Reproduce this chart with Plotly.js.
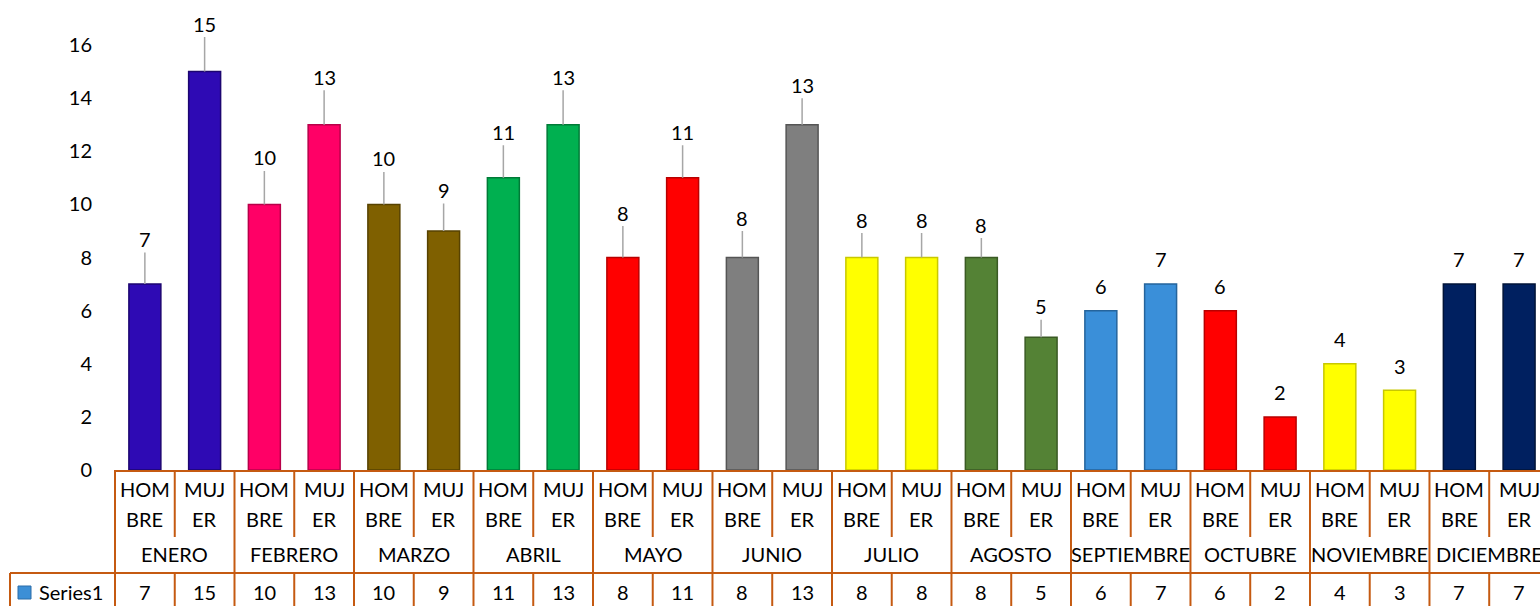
<!DOCTYPE html>
<html>
<head>
<meta charset="utf-8">
<script src="https://cdn.plot.ly/plotly-3.0.1.min.js"></script>
<style>
html,body{margin:0;padding:0;background:#fff;overflow:hidden;}
#chart{width:1540px;height:606px;}
</style>
</head>
<body>
<div id="chart"></div>
<script>
// ---- data ----
const months = ["ENERO","FEBRERO","MARZO","ABRIL","MAYO","JUNIO","JULIO","AGOSTO","SEPTIEMBRE","OCTUBRE","NOVIEMBRE","DICIEMBRE"];
const sexes = ["HOMBRE","MUJER"];
const hombre = [7,10,10,11,8,8,8,8,6,6,4,7];
const mujer  = [15,13,9,13,11,13,8,5,7,2,3,7];
const seriesName = "Series1";
const yTicks = [0,2,4,6,8,10,12,14,16];

// ---- styles ----
const monthColors = ["#2E0AB4","#FF0066","#7F6000","#00B050","#FF0000","#7F7F7F","#FFFF00","#548235","#3A8FD9","#FF0000","#FFFF00","#002060"];
const monthEdges  = ["#1C0570","#B80049","#574200","#007A37","#B80000","#555555","#C8C800","#3A5A24","#25649C","#B80000","#C8C800","#001338"];
const labelLift = [45,48,47,48,46,41,46,48,45,46,40,40,38,38,33,31,25,25,25,25,25,24,25,25];
const leaderCount = 16;
const FONT = "Lato, 'Open Sans', sans-serif";
const BORDER = "#C55A11";

// ---- build categories ----
const cats = [], vals = [], colors = [], edges = [];
months.forEach((m, i) => {
  sexes.forEach((s, j) => {
    cats.push(m + " " + s);
    vals.push(j === 0 ? hombre[i] : mujer[i]);
    colors.push(monthColors[i]);
    edges.push(monthEdges[i]);
  });
});

// pixel helpers (plot area: x 115..1540, y 45..470)
const L = 115, R = 1540, T = 45, B = 470;
const px = p => (p - L) / (R - L);
const py = p => (B - p) / (B - T);

const annotations = [];
const shapes = [];

// data labels
vals.forEach((v, i) => {
  const hasLine = i < leaderCount;
  annotations.push({
    x: i, y: v, xref: "x", yref: "y", text: String(v),
    showarrow: true, ax: 0, ay: -labelLift[i], arrowhead: 0, standoff: 0,
    arrowwidth: 1.5, arrowcolor: hasLine ? "#A6A6A6" : "rgba(0,0,0,0)",
    font: {family: FONT, size: 20, color: "#000"}
  });
});

// sex labels (wrapped like Excel) and values row
cats.forEach((c, i) => {
  const s = sexes[i % 2];
  const top = s.slice(0, 3), bot = s.slice(3);
  annotations.push({x: i, xref: "x", y: py(489), yref: "paper", text: top, showarrow: false,
    font: {family: FONT, size: 20, color: "#000"}, yanchor: "middle"});
  annotations.push({x: i, xref: "x", y: py(519), yref: "paper", text: bot, showarrow: false,
    font: {family: FONT, size: 20, color: "#000"}, yanchor: "middle"});
  annotations.push({x: i, xref: "x", y: py(592), yref: "paper", text: String(vals[i]), showarrow: false,
    font: {family: FONT, size: 20, color: "#000"}, yanchor: "middle"});
});

// month labels
months.forEach((m, i) => {
  annotations.push({x: 2 * i + 0.5, xref: "x", y: py(554), yref: "paper", text: m, showarrow: false,
    font: {family: FONT, size: 20, color: "#000"}, yanchor: "middle"});
});

// series label
annotations.push({x: px(37), xref: "paper", y: py(592), yref: "paper", text: seriesName, showarrow: false,
  xanchor: "left", yanchor: "middle", font: {family: FONT, size: 20, color: "#000"}});

// table lines
const lineStyle = {color: BORDER, width: 2};
// left border of table
shapes.push({type: "line", xref: "paper", yref: "paper", x0: 0, x1: 0, y0: py(470), y1: py(610), line: lineStyle});
// month separators
for (let k = 0; k < months.length; k++) {
  const xb = 2 * k + 1.5;
  shapes.push({type: "line", xref: "x", yref: "paper", x0: xb, x1: xb, y0: py(470), y1: py(610), line: lineStyle});
  const xi = 2 * k + 0.5;
  shapes.push({type: "line", xref: "x", yref: "paper", x0: xi, x1: xi, y0: py(470), y1: py(537), line: lineStyle});
  shapes.push({type: "line", xref: "x", yref: "paper", x0: xi, x1: xi, y0: py(573), y1: py(610), line: lineStyle});
}
// horizontal line above values row
shapes.push({type: "line", xref: "paper", yref: "paper", x0: px(10), x1: 1, y0: py(573), y1: py(573), line: lineStyle});
// left border of legend cell
shapes.push({type: "line", xref: "paper", yref: "paper", x0: px(10), x1: px(10), y0: py(573), y1: py(610), line: lineStyle});
// legend key
shapes.push({type: "rect", xref: "paper", yref: "paper", x0: px(18), x1: px(31), y0: py(586), y1: py(599),
  fillcolor: "#3C8FD6", line: {color: "#2A6CA8", width: 1}});

const trace = {
  type: "bar", x: cats, y: vals, name: seriesName,
  marker: {color: colors, line: {color: edges, width: 1.5}},
  hoverinfo: "x+y"
};

const layout = {
  width: 1540, height: 606,
  margin: {l: L, r: 0, t: T, b: 606 - B, pad: 0},
  paper_bgcolor: "#fff", plot_bgcolor: "#fff",
  showlegend: false,
  bargap: 0.465,
  font: {family: FONT, size: 20, color: "#000"},
  xaxis: {type: "category", range: [-0.5, 23.35], showticklabels: false, ticks: "",
    showgrid: false, zeroline: false, showline: true, linecolor: BORDER, linewidth: 2, fixedrange: true},
  yaxis: {range: [0, 16], tickvals: yTicks, ticktext: yTicks.map(String), showgrid: false, zeroline: false,
    showline: false, ticks: "", ticklabelstandoff: 22, tickfont: {family: FONT, size: 20, color: "#000"}, fixedrange: true},
  annotations: annotations,
  shapes: shapes
};

Plotly.newPlot("chart", [trace], layout, {displayModeBar: false, staticPlot: true});
</script>
</body>
</html>
